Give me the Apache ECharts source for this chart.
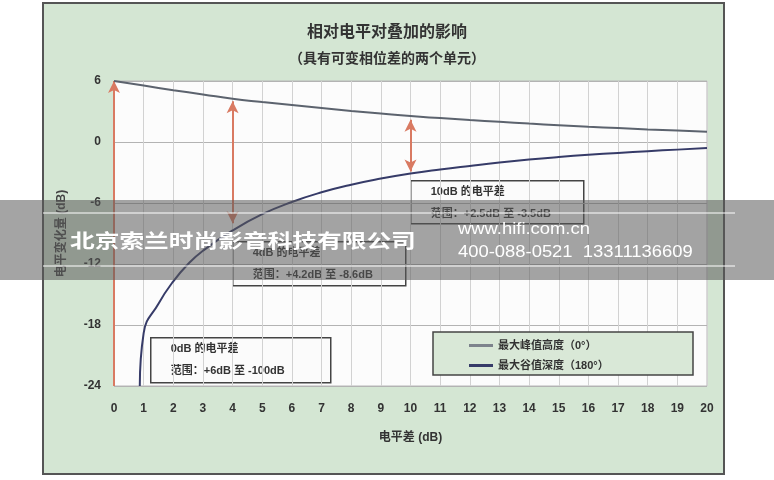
<!DOCTYPE html>
<html><head><meta charset="utf-8">
<script src="https://cdn.jsdelivr.net/npm/echarts@6/dist/echarts.min.js"></script>
<style>html,body{margin:0;padding:0;background:#fff}#c{width:774px;height:480px}</style>
</head><body><div id="c"></div>
<script>
// ---- data ----
const peakX = [0,1,2,3,4,5,6,7,8,9,10,11,12,13,14,15,16,17,18,19,20];
const peakY = [6,5.55,5.1,4.68,4.25,3.93,3.63,3.34,3.06,2.8,2.55,2.35,2.16,1.98,1.81,1.65,1.5,1.37,1.24,1.12,1.0];
const dipX = [0.87,1,1.5,2,2.5,3,4,5,6,7,8,9,10,11,12,13,14,15,16,17,18,19,20];
const dipY = [-24,-18.8,-15.9,-13.7,-12.0,-10.7,-8.7,-7.1,-5.9,-4.95,-4.2,-3.6,-3.1,-2.7,-2.35,-2.02,-1.73,-1.48,-1.26,-1.07,-0.9,-0.75,-0.6];
const arrowAt = [0, 4, 10];
const arrowTop = [6, 4.0, 2.2];
const arrowBottom = [-24, -8.0, -2.9];
const seriesNames = ['最大峰值高度（0°）', '最大谷值深度（180°）'];
const notes = [
  ['10dB 的电平差', '范围：+2.5dB 至 -3.5dB'],
  ['4dB 的电平差', '范围：+4.2dB 至 -8.6dB'],
  ['0dB 的电平差', '范围：+6dB 至 -100dB']
];
const titleText = '相对电平对叠加的影响';
const subTitleText = '（具有可变相位差的两个单元）';

// ---- chart ----
const FONT = '"Liberation Sans","Noto Sans CJK SC",sans-serif';
const chart = echarts.init(document.getElementById('c'), null, {renderer: 'canvas'});

const arrowData = arrowAt.map((x, i) => [
  {coord: [x, arrowBottom[i]], symbol: i === 0 ? 'none' : 'arrow'},
  {coord: [x, arrowTop[i]], symbol: 'arrow'}
]);

function noteBox(x, y, w, h, lines) {
  return {
    type: 'group', left: x, top: y, z: 50,
    children: [
      {type: 'rect', shape: {x: 0, y: 0, width: w, height: h},
       style: {fill: '#fbfbfb', stroke: '#444', lineWidth: 1.5}},
      {type: 'text', x: 20, y: 11, style: {text: lines[0], font: 'bold 11px ' + FONT, fill: '#333', textVerticalAlign: 'middle'}},
      {type: 'text', x: 20, y: 33, style: {text: lines[1], font: 'bold 11px ' + FONT, fill: '#333', textVerticalAlign: 'middle'}}
    ]
  };
}

const option = {
  animation: false,
  title: [
    {text: titleText, left: 'center', top: 20,
     textStyle: {fontSize: 16, fontWeight: 'bold', color: '#333', fontFamily: FONT}},
    {text: subTitleText, left: 'center', top: 47,
     textStyle: {fontSize: 14, fontWeight: 'bold', color: '#333', fontFamily: FONT}}
  ],
  grid: {left: 114, top: 81, width: 593, height: 305, show: true,
         backgroundColor: '#fcfcfc', borderColor: '#b8b8b8', borderWidth: 1},
  legend: {
    orient: 'vertical', left: 464, top: 335, itemGap: 9,
    itemWidth: 24, itemHeight: 3, icon: 'rect',
    textStyle: {fontSize: 11, fontWeight: 'bold', color: '#333', fontFamily: FONT},
    data: seriesNames, z: 60
  },
  xAxis: {
    type: 'value', min: 0, max: 20, interval: 1,
    axisLine: {show: false}, axisTick: {show: false},
    axisLabel: {margin: 17, fontSize: 12, fontWeight: 'bold', color: '#333', fontFamily: FONT},
    splitLine: {show: true, lineStyle: {color: '#d2d2d2', width: 1}},
    name: '电平差 (dB)', nameLocation: 'middle', nameGap: 46,
    nameTextStyle: {fontSize: 12, fontWeight: 'bold', color: '#333', fontFamily: FONT}
  },
  yAxis: {
    type: 'value', min: -24, max: 6, interval: 6,
    axisLine: {show: false}, axisTick: {show: false},
    axisLabel: {margin: 13, fontSize: 12, fontWeight: 'bold', color: '#333', fontFamily: FONT},
    splitLine: {show: true, lineStyle: {color: '#b3b3b3', width: 1}},
    name: '电平变化量 (dB)', nameLocation: 'middle', nameGap: 46,
    nameTextStyle: {fontSize: 12, fontWeight: 'bold', color: '#444', fontFamily: FONT}
  },
  series: [
    {
      name: seriesNames[0], type: 'line', smooth: 0.5, symbol: 'none',
      data: peakX.map((x, i) => [x, peakY[i]]),
      lineStyle: {color: '#5c636e', width: 2}, itemStyle: {color: '#7d838c'},
      z: 5,
      markLine: {
        silent: true, symbolSize: [9, 12], label: {show: false},
        lineStyle: {color: '#d97a62', width: 2, type: 'solid'},
        data: arrowData
      }
    },
    {
      name: seriesNames[1], type: 'line', smooth: 0.5, symbol: 'none',
      data: dipX.map((x, i) => [x, dipY[i]]),
      lineStyle: {color: '#363b68', width: 2}, itemStyle: {color: '#363b68'},
      z: 5
    }
  ],
  graphic: [
    {type: 'rect', z: -10, shape: {x: 43, y: 3, width: 681, height: 471},
     style: {fill: '#d4e6d3', stroke: '#555', lineWidth: 2}},
    noteBox(410, 180, 173, 43, notes[0]),
    noteBox(232, 241, 173, 44, notes[1]),
    noteBox(150, 337, 180, 45, notes[2]),
    {type: 'rect', z: 40, shape: {x: 433, y: 332, width: 260, height: 43},
     style: {fill: '#d9e8d7', stroke: '#444', lineWidth: 1.5}},
    // watermark band
    {type: 'rect', z: 100, shape: {x: 0, y: 200, width: 774, height: 80},
     style: {fill: 'rgba(90,90,90,0.55)'}},
    {type: 'line', z: 101, shape: {x1: 43, y1: 213, x2: 735, y2: 213}, style: {stroke: '#fff', lineWidth: 1}},
    {type: 'line', z: 101, shape: {x1: 43, y1: 266, x2: 735, y2: 266}, style: {stroke: '#fff', lineWidth: 1}},
    {type: 'text', z: 102, x: 70, y: 241, scaleX: 1.3,
     style: {text: '北京索兰时尚影音科技有限公司', font: 'bold 19px "Noto Sans CJK SC",sans-serif', fill: '#fff', textVerticalAlign: 'middle'}},
    {type: 'text', z: 102, x: 458, y: 230, scaleX: 1.15,
     style: {text: 'www.hifi.com.cn', font: '16px "Liberation Sans",sans-serif', fill: '#fff', textVerticalAlign: 'middle'}},
    {type: 'text', z: 102, x: 458, y: 253, scaleX: 1.15,
     style: {text: '400-088-0521  13311136609', font: '16px "Liberation Sans",sans-serif', fill: '#fff', textVerticalAlign: 'middle'}}
  ]
};
chart.setOption(option);
</script>
</body></html>
